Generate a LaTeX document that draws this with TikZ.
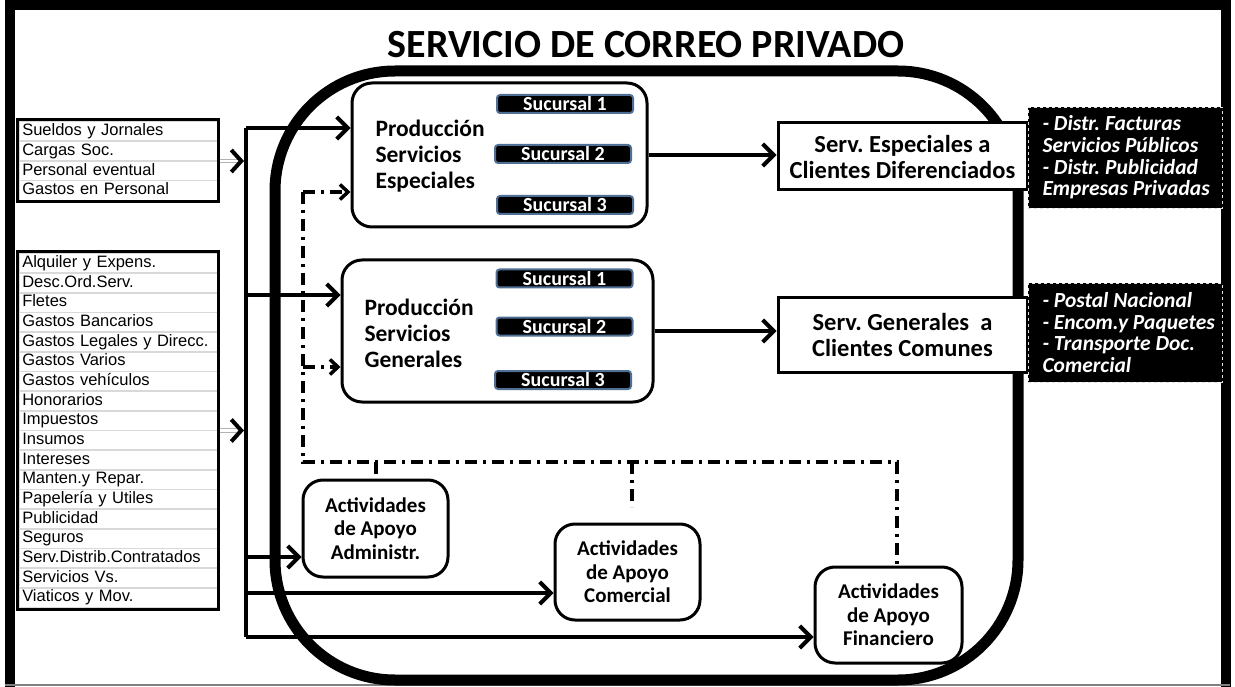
\documentclass[tikz,border=0pt]{standalone}
\usepackage{fontspec}
\setmainfont{Carlito}
\newfontfamily\arialf{Liberation Sans}
\usetikzlibrary{arrows.meta}
\definecolor{sucborder}{HTML}{4F6F94}
\frenchspacing
\tikzset{
  arr/.style={line width=4, -{Straight Barb[length=11,width=22,line width=4]}},
  dd/.style={line width=4, dash pattern=on 12 off 6 on 3 off 6},
  ddarr/.style={dd, -{Straight Barb[length=8,width=15,line width=3.5]}},
  bus/.style={line width=4},
  dbl/.style={draw=gray!60, double=white, double distance=2.5, line width=1},
  dblhead/.style={line width=0.3, -{Straight Barb[length=10,width=22,line width=4]}},
  cell/.style={draw=gray!30, line width=1.5, anchor=west, minimum width=198,
    inner ysep=0, inner xsep=3, text width=192, text height=12, text depth=3.5, align=left,
    font=\arialf\fontsize{16.5}{16.5}\selectfont},
  listbox/.style={draw=black, line width=3, inner sep=0},
  prod/.style={draw, line width=3, rounded corners=20, fill=white, inner sep=0},
  prodtext/.style={anchor=west, align=left, font=\bfseries\fontsize{23.5}{26}\selectfont},
  suc/.style={fill=black, draw=sucborder, line width=2, rounded corners=3, minimum width=136,
    minimum height=18, inner sep=0, text=white, font=\bfseries\fontsize{20}{20}\selectfont},
  serv/.style={draw, line width=3, fill=white, inner sep=0, align=center,
    font=\bfseries\fontsize{24.5}{26}\selectfont},
  blk/.style={fill=black, draw=gray!25, dashed, line width=0.5, inner sep=0, text=white},
  blktext/.style={anchor=west, align=left, text=white, font=\bfseries\itshape\fontsize{21.5}{21.7}\selectfont},
  act/.style={draw, line width=3, rounded corners=20, fill=white, inner sep=0, align=center,
    font=\bfseries\fontsize{21}{23.5}\selectfont},
}
\begin{document}
\begin{tikzpicture}[x=1pt,y=-1pt]
\useasboundingbox (0,0) rectangle (1235,687);
\fill[white] (0,0) rectangle (1235,687);
% outer frame
\draw[line width=10] (10,687) -- (10,5) -- (1226,5) -- (1226,687);
\draw[line width=1.5, gray] (5,685) -- (1230,685);
% big rounded container
\draw[line width=11, rounded corners=120] (275,71) rectangle (1018,680);
% title
\node[font=\bfseries\fontsize{40}{40}\selectfont] (T) at (646,45) {SERVICIO DE CORREO PRIVADO};

% list 1
\foreach \t [count=\i] in {Sueldos y Jornales, Cargas Soc., Personal eventual, Gastos en Personal}
  \node[cell, minimum height=19.75] (l1r\i) at (18.5, {121.5+19.75*(\i-0.5)}) {\t};
\node[listbox, minimum width=201, minimum height=82] (L1) at (117.5,161) {};
% list 2
\foreach \t [count=\i] in {Alquiler y Expens., Desc.Ord.Serv., Fletes, Gastos Bancarios,
  Gastos Legales y Direcc., Gastos Varios, Gastos vehículos, Honorarios, Impuestos, Insumos,
  Intereses, Manten.y Repar., Papelería y Utiles, Publicidad, Seguros, Serv.Distrib.Contratados,
  Servicios Vs., Viaticos y Mov.}
  \node[cell, minimum height=19.67] (l2r\i) at (18.5, {253.5+19.67*(\i-0.5)}) {\t};
\node[listbox, minimum width=201, minimum height=357] (L2) at (117.5,430.5) {};

% production boxes
\node[prod, minimum width=295, minimum height=144] (PE) at (499.5,155) {};
\node[prodtext] (PEt) at (372,156) {Producción\\Servicios\\Especiales};
\node[suc] (PEs1) at (565,104) {Sucursal 1};
\node[suc] (PEs2) at (563,154) {Sucursal 2};
\node[suc] (PEs3) at (565,205) {Sucursal 3};

\node[prod, minimum width=311, minimum height=142] (PG) at (497.5,331) {};
\node[prodtext] (PGt) at (361,333) {Producción\\Servicios\\Generales};
\node[suc] (PGs1) at (564.5,278.5) {Sucursal 1};
\node[suc] (PGs2) at (564.5,326.5) {Sucursal 2};
\node[suc] (PGs3) at (563,380) {Sucursal 3};

% service boxes
\node[serv, minimum width=249, minimum height=67] (SE) at (902.5,156.5) {Serv. Especiales a\\Clientes Diferenciados};
\node[serv, minimum width=249, minimum height=74] (SG) at (902.5,335) {Serv. Generales\ \ a\\Clientes Comunes};

% black boxes
\node[blk, minimum width=194, minimum height=101] (B1) at (1125,157.5) {};
\node[blktext] (B1t) at (1039,157.5) {- Distr. Facturas\\Servicios Públicos\\- Distr. Publicidad\\Empresas Privadas};
\node[blk, minimum width=194, minimum height=99] (B2) at (1125,332.5) {};
\node[blktext] (B2t) at (1039,332.5) {- Postal Nacional\\- Encom.y Paquetes\\- Transporte Doc.\\Comercial};

% activity boxes
\node[act, minimum width=145, minimum height=97] (AA) at (375.5,528.5) {Actividades\\de Apoyo\\Administr.};
\node[act, minimum width=145, minimum height=96] (AC) at (627.5,572) {Actividades\\de Apoyo\\Comercial};
\node[act, minimum width=147, minimum height=96] (AF) at (888.5,615) {Actividades\\de Apoyo\\Financiero};

% bus
\coordinate (bt) at (246,128);
\coordinate (b2) at (246,295);
\coordinate (b3) at (246,557);
\coordinate (b4) at (246,593);
\coordinate (bb) at (246,637);
\draw[bus] (bt) -- (bb);
\draw[arr] (bt) -- (PE.west |- bt);
\draw[arr] (b2) -- (PG.west |- b2);
\draw[arr] (b3) -- (AA.west |- b3);
\draw[arr] (b4) -- (AC.west |- b4);
\draw[arr] (bb) -- (AF.west |- bb);
% list arrows
\draw[dbl] (L1.east) -- ([xshift=-4]L1.east -| bt);
\draw[dblhead] ([xshift=-4]L1.east -| bt) -- ([xshift=-2]L1.east -| bt);
\draw[dbl] (L2.east) -- ([xshift=-4]L2.east -| bt);
\draw[dblhead] ([xshift=-4]L2.east -| bt) -- ([xshift=-2]L2.east -| bt);

% outputs
\draw[arr] (PE.east) -- (SE.west |- PE.east);
\draw[arr] (PG.east) -- (SG.west |- PG.east);

% dash-dot support network
\coordinate (d1) at (303,192);
\coordinate (d4) at (303,367);
\coordinate (d2) at (303,462);
\coordinate (d3) at (897,462);
\coordinate (d5) at (632,462);
\coordinate (d6) at (632,507);
\draw[ddarr] (d1) -- (PE.west |- d1);
\draw[ddarr] (d4) -- (PG.west |- d4);
\draw[dd] (d1) -- (d2) -- (d3) -- (d3 |- AF.north);
\draw[dd] (AA.north |- d2) -- (AA.north);
\draw[dd] (d5) -- (d6);
\end{tikzpicture}
\end{document}
